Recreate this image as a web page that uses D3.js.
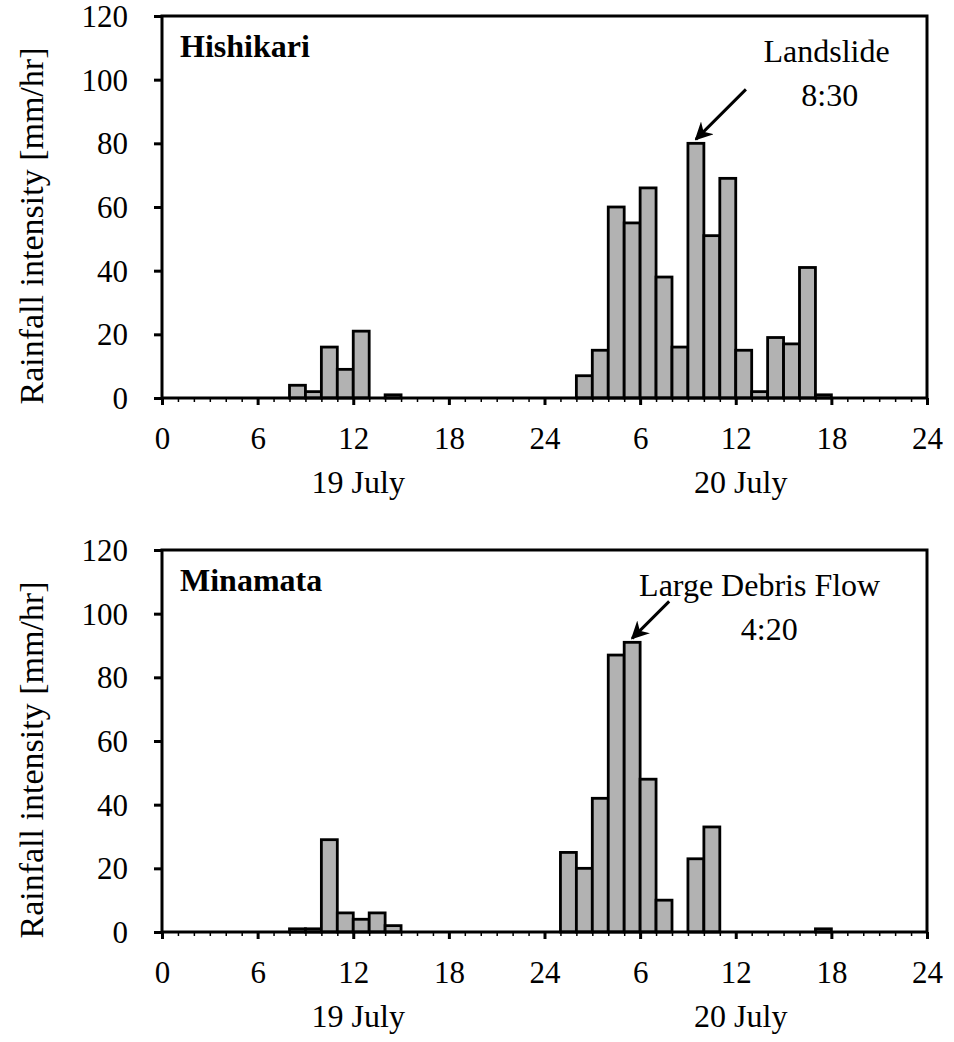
<!DOCTYPE html>
<html>
<head>
    <meta charset="UTF-8">
    <script type="text/javascript" src="https://cdn.jsdelivr.net/npm/d3@7"></script>
</head>
<body style="margin:0">

<script>
    let width = 954;
    let height = 1042;
    var fontName = "'Liberation Serif', Tinos, 'Times New Roman', serif";

    // hours from 0:00 on 19 July to 24:00 on 20 July, one bar per hour
    var hours = d3.range(0, 48);

    // hourly rainfall [mm/hr]
    var hishikari = [0, 0, 0, 0, 0, 0, 0, 0, 4, 2, 16, 9, 21, 0, 1, 0, 0, 0, 0, 0, 0, 0, 0, 0,
        0, 0, 7, 15, 60, 55, 66, 38, 16, 80, 51, 69, 15, 2, 19, 17, 41, 1, 0, 0, 0, 0, 0, 0];
    var minamata = [0, 0, 0, 0, 0, 0, 0, 0, 1, 1, 29, 6, 4, 6, 2, 0, 0, 0, 0, 0, 0, 0, 0, 0,
        0, 25, 20, 42, 87, 91, 48, 10, 0, 23, 33, 0, 0, 0, 0, 0, 0, 1, 0, 0, 0, 0, 0, 0];

    var xTicks = [0, 6, 12, 18, 24, 30, 36, 42, 48];
    var xTickLabels = ["0", "6", "12", "18", "24", "6", "12", "18", "24"];
    var yTicks = [0, 20, 40, 60, 80, 100, 120];
    var dayLabels = ["19 July", "20 July"];
    var dayCentres = [12, 36];

    var panels = [
        {name: "Hishikari", values: hishikari, top: 16,
            note: ["Landslide", "8:30"], noteHour: [41.7, 41.9], target: 33, arrow: 50},
        {name: "Minamata", values: minamata, top: 550,
            note: ["Large Debris Flow", "4:20"], noteHour: [37.5, 38.1], target: 29, arrow: 37}
    ];

    var left = 162, right = 927, plotH = 382;

    var svg = d3.select("body").append("svg")
        .attr("width", width)
        .attr("height", height)
        .attr("font-family", fontName)
        .style("font-family", fontName);

    svg.append("defs").append("marker")
        .attr("id", "head")
        .attr("viewBox", "0 0 10 10")
        .attr("refX", 9).attr("refY", 5)
        .attr("markerWidth", 6).attr("markerHeight", 6)
        .attr("markerUnits", "strokeWidth")
        .attr("orient", "auto")
        .append("path")
        .attr("d", "M0,0 L10,5 L0,10 L3,5 Z")
        .attr("fill", "#000");

    var x = d3.scaleLinear().domain([0, 48]).range([left, right]);
    var y = d3.scaleLinear().domain([0, 120]).range([plotH, 0]);

    function serifText(sel, size) {
        return sel.attr("font-family", fontName)
            .style("font-family", fontName)
            .style("font-size", size + "px")
            .attr("fill", "#000");
    }

    panels.forEach(function (p) {
        var g = svg.append("g").attr("transform", "translate(0," + p.top + ")");

        // y axis title
        g.append("text")
            .attr("transform", "translate(43," + (plotH / 2 + 19) + ") rotate(-90)")
            .attr("text-anchor", "middle")
            .call(serifText, 34)
            .text("Rainfall intensity [mm/hr]");

        // bars
        g.selectAll("rect.bar")
            .data(hours.filter(function (h) { return p.values[h] > 0; }))
            .enter()
            .append("rect")
            .attr("class", "bar")
            .attr("x", function (h) { return x(h); })
            .attr("width", x(1) - x(0))
            .attr("y", function (h) { return y(p.values[h]); })
            .attr("height", function (h) { return plotH - y(p.values[h]); })
            .attr("fill", "#b2b2b2")
            .attr("stroke", "#000")
            .attr("stroke-width", 2.8);

        // frame
        g.append("rect")
            .attr("x", left).attr("y", 0)
            .attr("width", right - left).attr("height", plotH)
            .attr("fill", "none")
            .attr("stroke", "#000")
            .attr("stroke-width", 3);

        // y axis
        var yAxis = g.append("g")
            .attr("transform", "translate(" + left + ",0)")
            .call(d3.axisLeft(y).tickValues(yTicks).tickSize(8).tickSizeOuter(0).tickPadding(26));
        yAxis.attr("font-family", fontName).attr("font-size", null);
        yAxis.select(".domain").remove();
        yAxis.selectAll("line").attr("stroke-width", 3);
        yAxis.selectAll("text").call(serifText, 31).attr("dy", "0.34em");

        // minor hourly ticks
        g.append("g")
            .attr("transform", "translate(0," + plotH + ")")
            .call(d3.axisBottom(x).tickValues(hours.slice(1)).tickSize(4).tickSizeOuter(0).tickFormat(""))
            .call(function (a) {
                a.select(".domain").remove();
                a.selectAll("line").attr("stroke-width", 1.5);
            });

        // major ticks every 6 hours
        var xAxis = g.append("g")
            .attr("transform", "translate(0," + plotH + ")")
            .call(d3.axisBottom(x).tickValues(xTicks).tickSize(7).tickSizeOuter(0).tickPadding(22)
                .tickFormat(function (d, i) { return xTickLabels[i]; }));
        xAxis.attr("font-family", fontName).attr("font-size", null);
        xAxis.select(".domain").remove();
        xAxis.selectAll("line").attr("stroke-width", 3);
        xAxis.selectAll("text").call(serifText, 31);

        // day labels
        g.selectAll("text.day")
            .data(dayLabels)
            .enter()
            .append("text")
            .attr("class", "day")
            .attr("x", function (d, i) { return x(dayCentres[i]) + 5; })
            .attr("y", plotH + 95)
            .attr("text-anchor", "middle")
            .call(serifText, 32)
            .text(function (d) { return d; });

        // station name
        g.append("text")
            .attr("x", left + 18)
            .attr("y", 41)
            .call(serifText, 32)
            .style("font-weight", "bold")
            .text(p.name);

        // annotation
        g.selectAll("text.note")
            .data(p.note)
            .enter()
            .append("text")
            .attr("class", "note")
            .attr("x", function (d, i) { return x(p.noteHour[i]); })
            .attr("y", function (d, i) { return 46 + i * 44; })
            .attr("text-anchor", "middle")
            .call(serifText, 32)
            .text(function (d) { return d; });

        var tipX = x(p.target + 0.5);
        var tipY = y(p.values[p.target]) - 4;
        g.append("line")
            .attr("x1", tipX + p.arrow).attr("y1", tipY - p.arrow)
            .attr("x2", tipX).attr("y2", tipY)
            .attr("stroke", "#000")
            .attr("stroke-width", 3)
            .attr("marker-end", "url(#head)");
    });

</script>

</body>
</html>
